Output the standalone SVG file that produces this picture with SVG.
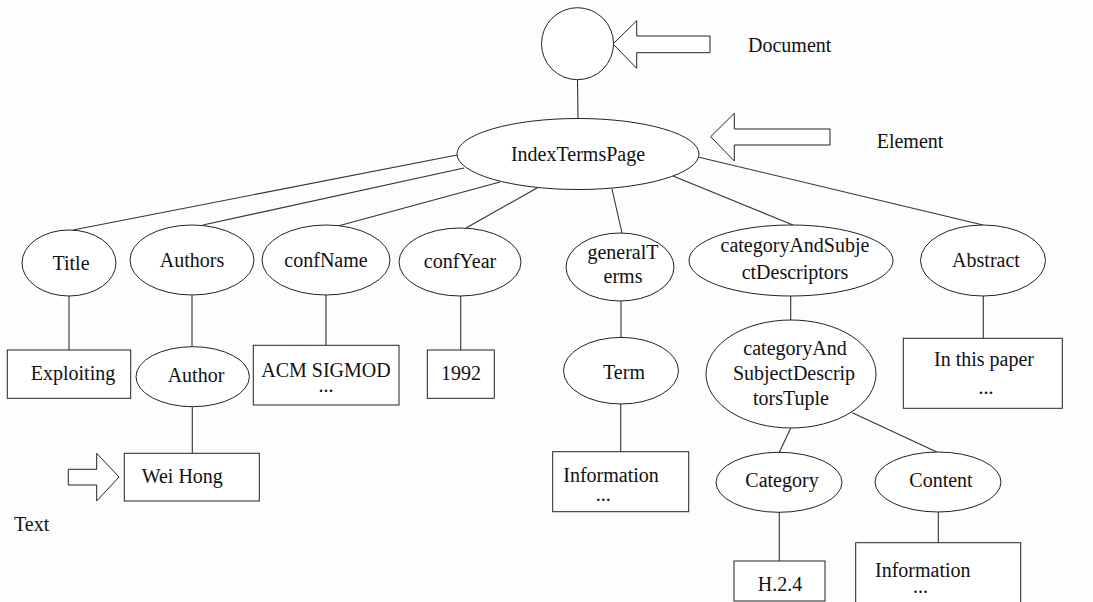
<svg xmlns="http://www.w3.org/2000/svg" width="1093" height="602" viewBox="0 0 1093 602">
<style>
.n{fill:#fff;stroke:#222;stroke-width:1}
.t{font-family:"Liberation Serif","Times New Roman",serif;font-size:20px;fill:#111}
.m{text-anchor:middle}
.c line{stroke:#333;stroke-width:1.1}
.ar{fill:#fff;stroke:#222;stroke-width:1}
</style>
<rect width="1093" height="602" fill="#fdfdfd"/>
<g class="c" id="connectors">
<line x1="577.5" y1="80" x2="578" y2="118.5"/>
<line x1="457" y1="155" x2="73" y2="230"/>
<line x1="464" y1="168" x2="203" y2="225"/>
<line x1="500" y1="182" x2="338" y2="226"/>
<line x1="537" y1="188" x2="466" y2="228"/>
<line x1="612" y1="189" x2="622" y2="233"/>
<line x1="673" y1="176" x2="793" y2="225"/>
<line x1="698" y1="157" x2="983" y2="225"/>
<line x1="69" y1="296" x2="69" y2="350"/>
<line x1="192" y1="295" x2="192" y2="347"/>
<line x1="326" y1="295" x2="326" y2="345.3"/>
<line x1="460.7" y1="296" x2="460.7" y2="350"/>
<line x1="621" y1="300.7" x2="621" y2="337.4"/>
<line x1="790.7" y1="296" x2="790.7" y2="320"/>
<line x1="983.3" y1="296" x2="983.3" y2="338.3"/>
<line x1="192.3" y1="406.7" x2="192.3" y2="453.3"/>
<line x1="620.7" y1="404" x2="620.7" y2="451.7"/>
<line x1="790.7" y1="428.3" x2="779.3" y2="452.3"/>
<line x1="852.3" y1="412.7" x2="937.3" y2="452.3"/>
<line x1="779.3" y1="512.3" x2="779.3" y2="561"/>
<line x1="938.3" y1="512" x2="938.3" y2="542.7"/>
</g>
<g id="document"><circle class="n" cx="577.5" cy="43.7" r="36"/></g>
<g id="indexTermsPage"><ellipse class="n" cx="578" cy="154" rx="121" ry="35.5"/><text class="t m" x="578" y="161">IndexTermsPage</text></g>
<g id="title"><ellipse class="n" cx="69" cy="263" rx="47" ry="33"/><text class="t m" x="71" y="270">Title</text></g>
<g id="authors"><ellipse class="n" cx="192" cy="260" rx="62" ry="35"/><text class="t m" x="192" y="267">Authors</text></g>
<g id="confName"><ellipse class="n" cx="326" cy="260" rx="64" ry="35"/><text class="t m" x="326" y="267">confName</text></g>
<g id="confYear"><ellipse class="n" cx="460" cy="262" rx="61" ry="34"/><text class="t m" x="460" y="268">confYear</text></g>
<g id="generalTerms"><ellipse class="n" cx="620" cy="267" rx="54" ry="34"/><text class="t m" x="623" y="259">generalT</text><text class="t m" x="623" y="283">erms</text></g>
<g id="categoryAndSubjectDescriptors"><ellipse class="n" cx="791" cy="260.5" rx="102" ry="35.5"/><text class="t m" x="795" y="252">categoryAndSubje</text><text class="t m" x="795" y="279">ctDescriptors</text></g>
<g id="abstract"><ellipse class="n" cx="983" cy="260.5" rx="62.5" ry="35.5"/><text class="t m" x="986" y="267">Abstract</text></g>
<g id="exploiting"><rect class="n" x="7.3" y="350" width="123.4" height="48.3"/><text class="t m" x="73" y="380">Exploiting</text></g>
<g id="author"><ellipse class="n" cx="192.7" cy="376.7" rx="56.7" ry="30"/><text class="t m" x="196" y="382">Author</text></g>
<g id="acm"><rect class="n" x="253.3" y="345.3" width="145.7" height="59.7"/><text class="t m" x="326" y="376.5">ACM SIGMOD</text><text class="t m" x="326" y="391.5">...</text></g>
<g id="y1992"><rect class="n" x="427.3" y="350" width="67" height="48.3"/><text class="t m" x="461" y="380">1992</text></g>
<g id="term"><ellipse class="n" cx="621" cy="370.7" rx="57.5" ry="33.3"/><text class="t m" x="624" y="379">Term</text></g>
<g id="tuple"><ellipse class="n" cx="791" cy="374" rx="85" ry="54"/><text class="t m" x="795" y="355">categoryAnd</text><text class="t m" x="794" y="380">SubjectDescrip</text><text class="t m" x="791" y="405">torsTuple</text></g>
<g id="inThisPaper"><rect class="n" x="903.3" y="338.3" width="159" height="70"/><text class="t m" x="984" y="365.5">In this paper</text><text class="t m" x="986" y="394">...</text></g>
<g id="weiHong"><rect class="n" x="124.3" y="453.3" width="135" height="47.7"/><text class="t" x="141.7" y="483">Wei Hong</text></g>
<g id="information1"><rect class="n" x="552.7" y="451.7" width="136" height="60"/><text class="t" x="563.3" y="482.3">Information</text><text class="t m" x="603.3" y="501">...</text></g>
<g id="category"><ellipse class="n" cx="779" cy="482.3" rx="63" ry="30"/><text class="t m" x="782" y="487.3">Category</text></g>
<g id="content"><ellipse class="n" cx="938" cy="482" rx="63" ry="30"/><text class="t m" x="941" y="487">Content</text></g>
<g id="h224"><rect class="n" x="734" y="561" width="91" height="40"/><text class="t m" x="780" y="590.7">H.2.4</text></g>
<g id="information2"><rect class="n" x="855.7" y="542.7" width="165" height="62"/><text class="t" x="875" y="577.3">Information</text><text class="t m" x="920.5" y="592.7">...</text></g>
<g id="legend">
<polygon class="ar" points="613,44 636.7,20.7 636.7,36 710,36 710,52.7 636.7,52.7 636.7,68.3"/>
<text class="t" x="748" y="52">Document</text>
<polygon class="ar" points="710.7,136.7 734.3,113.3 734.3,129 830,129 830,145 734.3,145 734.3,161"/>
<text class="t" x="876.7" y="147.7">Element</text>
<polygon class="ar" points="68.3,469.3 96.7,469.3 96.7,453.3 119,477 96.7,501 96.7,485 68.3,485"/>
<text class="t" x="14" y="531">Text</text>
</g>
</svg>
